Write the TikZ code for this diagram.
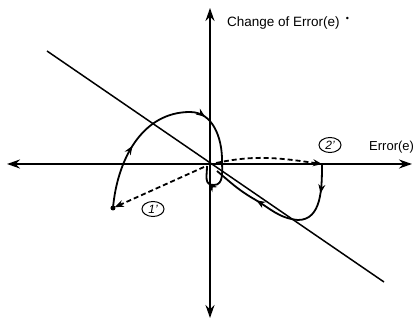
\documentclass[tikz,border=0pt]{standalone}
\usepackage{fontspec}
\setmainfont{Liberation Sans}
\usetikzlibrary{arrows.meta,shapes.geometric,decorations.markings}
\newcommand{\pointe}{\arrow{Stealth[length=9pt,width=7pt]}}
\tikzset{
  axe/.style={line width=2pt,{Stealth[length=13pt,width=9pt]}-{Stealth[length=13pt,width=9pt]}},
  traj/.style={line width=1.8pt},
  pointille/.style={line width=1.8pt,dash pattern=on 5pt off 3pt},
  etiq/.style={draw,ellipse,line width=1pt,inner sep=0pt,minimum width=22pt,minimum height=15pt,font=\fontsize{12}{12}\selectfont\itshape},
  texte/.style={anchor=west,inner sep=0pt,font=\fontsize{13.5}{15}\selectfont}
}
\begin{document}
\begin{tikzpicture}[x=1pt,y=1pt]
                    \useasboundingbox(-210,-156)rectangle(207,164);
                    \coordinate(O)at(0,0);
                    \coordinate(Xg)at(-203,0);
                    \coordinate(Xd)at(202,0);
                    \coordinate(Yh)at(0,156);
                    \coordinate(Yb)at(0,-154);
                    \coordinate(D1)at(-163,113);
                    \coordinate(D2)at(174,-118);
                    \coordinate(P1)at(-97,-44);
                    \coordinate(P2)at(112,0);
                    \coordinate(H1)at(-20,52);
                    \coordinate(R1)at(12,4);
                    \coordinate(B1)at(4,-21);
                    \coordinate(G1)at(-3,-2);
                    \coordinate(B2)at(88,-56);
                    \coordinate(M2)at(44,-35);
                    \coordinate(F2)at(7,-7);
                    \coordinate(O1)at(-6,-3);
                    \coordinate(O2)at(6,1);
                    \draw[axe](Xg)--(Xd);
                    \draw[axe](Yb)--(Yh);
                    \draw[line width=1.5pt](D1)--(D2);
                    % trajectoire 1
                    \draw[traj,postaction={decorate},decoration={markings,
                        mark=at position .26 with {\pointe},
                        mark=at position .6 with {\pointe},
                        mark=at position .93 with {\pointe}}]
                        (P1)to[out=85,in=180](H1)to[out=0,in=90](R1)
                        to[out=-90,in=0](B1)to[out=180,in=-90,looseness=1.3](G1);
                    \draw[pointille,-{Stealth[length=9pt,width=7pt]},shorten >=2pt](O1)--(P1);
                    \fill(P1)circle(2.5);
                    % trajectoire 2
                    \draw[pointille,-{Stealth[length=9pt,width=7pt]}](O2)to[out=12,in=172](P2);
                    \draw[traj,postaction={decorate},decoration={markings,
                        mark=at position .18 with {\pointe},
                        mark=at position .7 with {\pointe}}]
                        (P2)to[out=-90,in=0](B2)to[out=175,in=-30](M2)to[out=150,in=-40](F2);
                    \node[etiq](L1)at(-57,-45){1'};
                    \node[etiq](L2)at(120,19){2'};
                    \node[texte](Ty)at(17,141){Change of Error(e)\hspace{6pt}\raisebox{5pt}{\fontsize{9}{9}\selectfont•}};
                    \node[texte,font=\fontsize{13}{15}\selectfont](Tx)at(159,17){Error(e)};
                \end{tikzpicture}
\end{document}
